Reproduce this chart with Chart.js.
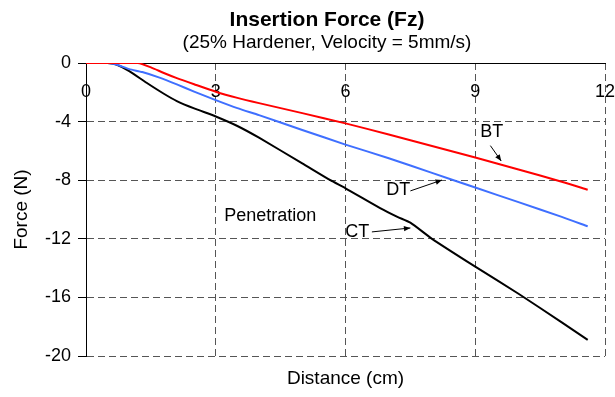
<!DOCTYPE html>
<html>
<head>
<meta charset="utf-8">
<script src="https://cdn.jsdelivr.net/npm/chart.js"></script>
<style>
  html, body { margin: 0; padding: 0; background: #fff; }
  #wrap { width: 615px; height: 397px; }
</style>
</head>
<body>
<div id="wrap"><canvas id="chart" width="615" height="397"></canvas></div>
<script>
  const FONT = '"Liberation Sans", Arial, sans-serif';

  const xTicks = [0, 3, 6, 9, 12];
  const yTicks = [0, -4, -8, -12, -16, -20];

  // BT (red)
  const btX = [0, 0.5, 1.2, 1.5, 1.8, 2.1, 2.5, 3, 3.5, 4, 5, 6, 7, 8, 9, 10, 11, 11.6];
  const btY = [0, 0, 0, -0.3, -0.68, -1.03, -1.45, -1.96, -2.38, -2.74, -3.42, -4.12, -4.88, -5.66, -6.45, -7.27, -8.1, -8.65];

  // DT (blue)
  const dtX = [0, 0.5, 0.7, 1.0, 1.3, 1.7, 2.1, 2.5, 3, 3.5, 4, 5, 6, 7, 8, 9, 10, 11, 11.6];
  const dtY = [0, 0, -0.1, -0.42, -0.62, -1.0, -1.46, -1.95, -2.53, -3.08, -3.56, -4.57, -5.57, -6.5, -7.5, -8.5, -9.5, -10.5, -11.15];

  // CT (black)
  const ctX = [0, 0.5, 0.7, 1.0, 1.4, 1.8, 2.1, 2.5, 3, 3.5, 4, 5, 5.65, 6, 6.8, 7.2, 7.5, 8, 9, 10, 11, 11.6];
  const ctY = [0, 0, -0.1, -0.55, -1.35, -2.1, -2.6, -3.1, -3.65, -4.3, -5.1, -6.85, -8.0, -8.55, -9.9, -10.5, -10.9, -12.0, -13.9, -15.75, -17.7, -18.9];

  // text labels and arrows, in data units
  const labels = [
    { text: 'BT', x: 9.38, y: -4.7 },
    { text: 'DT', x: 7.22, y: -8.68 },
    { text: 'CT', x: 6.27, y: -11.55 },
    { text: 'Penetration', x: 4.26, y: -10.46 }
  ];
  const arrows = [
    { from: [9.35, -5.64], to: [9.6, -6.69] },
    { from: [7.5, -8.73], to: [8.23, -7.99] },
    { from: [6.61, -11.53], to: [7.5, -11.26] }
  ];

  function toPoints(xs, ys) {
    return xs.map((x, i) => ({ x: x, y: ys[i] }));
  }

  const annotate = {
    id: 'annotate',
    afterDatasetsDraw(chart) {
      const ctx = chart.ctx;
      const sx = chart.scales.x;
      const sy = chart.scales.y;
      ctx.save();
      ctx.fillStyle = '#000';
      ctx.font = '18px ' + FONT;
      ctx.textAlign = 'center';
      ctx.textBaseline = 'middle';
      labels.forEach(l => {
        ctx.fillText(l.text, sx.getPixelForValue(l.x), sy.getPixelForValue(l.y));
      });
      ctx.strokeStyle = '#000';
      ctx.lineWidth = 1;
      arrows.forEach(a => {
        const x1 = sx.getPixelForValue(a.from[0]), y1 = sy.getPixelForValue(a.from[1]);
        const x2 = sx.getPixelForValue(a.to[0]), y2 = sy.getPixelForValue(a.to[1]);
        ctx.beginPath();
        ctx.moveTo(x1, y1);
        ctx.lineTo(x2, y2);
        ctx.stroke();
        const ang = Math.atan2(y2 - y1, x2 - x1);
        const len = 7, w = 0.4;
        ctx.beginPath();
        ctx.moveTo(x2, y2);
        ctx.lineTo(x2 - len * Math.cos(ang - w), y2 - len * Math.sin(ang - w));
        ctx.lineTo(x2 - len * Math.cos(ang + w), y2 - len * Math.sin(ang + w));
        ctx.closePath();
        ctx.fill();
      });
      ctx.restore();
    },
    afterDraw(chart) {
      const ctx = chart.ctx;
      ctx.save();
      ctx.fillStyle = '#000';
      ctx.textAlign = 'center';
      ctx.textBaseline = 'middle';
      ctx.font = 'bold 21px ' + FONT;
      ctx.fillText('Insertion Force (Fz)', 327, 20);
      ctx.font = '19px ' + FONT;
      ctx.fillText('(25% Hardener, Velocity = 5mm/s)', 327, 43);
      ctx.restore();
    }
  };

  new Chart(document.getElementById('chart'), {
    type: 'scatter',
    data: {
      datasets: [
        { label: 'BT', data: toPoints(btX, btY), borderColor: '#ff0000', borderWidth: 2, showLine: true, pointRadius: 0, tension: 0.2 },
        { label: 'DT', data: toPoints(dtX, dtY), borderColor: '#3f6fff', borderWidth: 2, showLine: true, pointRadius: 0, tension: 0.2 },
        { label: 'CT', data: toPoints(ctX, ctY), borderColor: '#000000', borderWidth: 2, showLine: true, pointRadius: 0, tension: 0.2 }
      ]
    },
    options: {
      responsive: false,
      animation: false,
      layout: { padding: { top: 63, right: 10, bottom: 0, left: 0 } },
      plugins: {
        legend: { display: false },
        tooltip: { enabled: false },
        title: { display: false }
      },
      scales: {
        x: {
          type: 'linear',
          position: 'bottom',
          min: 0,
          max: 12,
          afterBuildTicks: s => { s.ticks = xTicks.map(v => ({ value: v })); },
          ticks: { display: false },
          grid: { color: '#555', drawTicks: false },
          border: { display: false, dash: [7, 4] },
          title: {
            display: true,
            text: 'Distance (cm)',
            color: '#000',
            font: { family: FONT, size: 19 },
            padding: { top: 0, bottom: 7 }
          },
          afterFit: s => { s.height = 41; s.paddingLeft = 0; s.paddingRight = 0; }
        },
        x2: {
          type: 'linear',
          position: 'top',
          min: 0,
          max: 12,
          afterBuildTicks: s => { s.ticks = xTicks.map(v => ({ value: v })); },
          ticks: { color: '#000', font: { family: FONT, size: 18 }, mirror: true, padding: 18, maxRotation: 0, autoSkip: false },
          grid: { display: false, drawTicks: false },
          border: { display: true, color: '#000', width: 1 },
          afterFit: s => { s.height = 0; s.paddingLeft = 0; s.paddingRight = 0; }
        },
        y: {
          type: 'linear',
          min: -20,
          max: 0,
          afterBuildTicks: s => { s.ticks = yTicks.map(v => ({ value: v })); },
          ticks: { color: '#000', font: { family: FONT, size: 18 }, padding: 7 },
          grid: { color: '#555', tickColor: '#000', tickLength: 8, tickBorderDash: [] },
          border: { display: true, color: '#000', width: 1, dash: [7, 4] },
          title: {
            display: true,
            text: 'Force (N)',
            color: '#000',
            font: { family: FONT, size: 19 },
            padding: { top: 10, bottom: 0 }
          },
          afterFit: s => { s.width = 86; }
        }
      }
    },
    plugins: [annotate]
  });
</script>
</body>
</html>
